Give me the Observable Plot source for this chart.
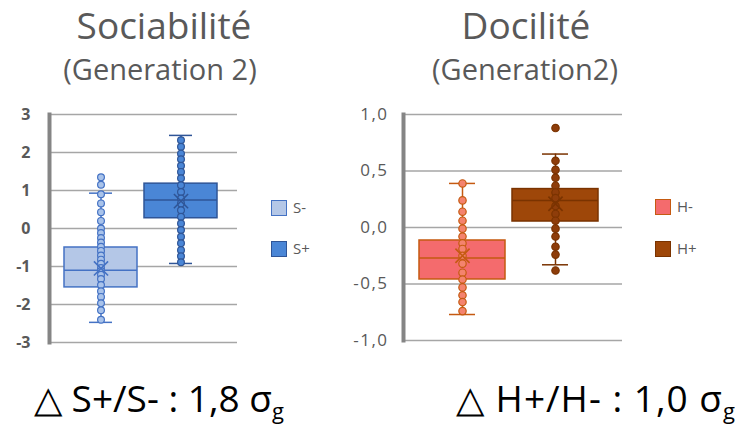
<!DOCTYPE html>
<html>
<head>
<meta charset="utf-8">
<script src="https://cdn.jsdelivr.net/npm/d3@7"></script>
<script src="https://cdn.jsdelivr.net/npm/@observablehq/plot@0.6"></script>
<style>
  html, body { margin: 0; padding: 0; background: #fff; }
  #root { position: relative; width: 735px; height: 427px; overflow: hidden; font-family: "Open Sans", sans-serif; color: #595959; }
  .abs { position: absolute; }
  .title { font-size: 37px; line-height: 1.3; white-space: nowrap; transform: translateX(-50%); }
  .sub { font-size: 29px; line-height: 1.3; white-space: nowrap; transform: translateX(-50%); }
  .leg { position: absolute; display: flex; align-items: center; font-size: 15px; line-height: 1.3; }
  .sw { width: 14px; height: 14px; border: 1.8px solid; margin-right: 6px; }
  .delta { font-size: 37px; color: #000; white-space: nowrap; line-height: 1.3; }
  .delta sub { font-size: 22px; vertical-align: -7px; line-height: 0; }
  .plotH g[aria-label="y-axis tick label"] { letter-spacing: 1.5px; }
</style>
</head>
<body>
<div id="root"></div>
<script>
// ---------- Data ----------
const groupsS = ["S-", "S+"];
const groupsH = ["H-", "H+"];

const pointsSminus = [1.35, 1.15, 0.9, 0.66, 0.43, 0.2, 0.0, -0.12, -0.25, -0.37, -0.48, -0.59, -0.71, -0.82, -0.93, -1.04, -1.12, -1.22, -1.33, -1.49, -1.65, -1.8, -1.97, -2.15, -2.4];
const pointsSplus = [2.32, 2.15, 1.97, 1.82, 1.65, 1.49, 1.32, 1.14, 0.96, 0.79, 0.66, 0.48, 0.31, 0.13, -0.04, -0.22, -0.39, -0.57, -0.73, -0.89];
const pointsHminus = [0.39, 0.24, 0.14, 0.06, -0.01, -0.08, -0.14, -0.19, -0.25, -0.32, -0.40, -0.46, -0.53, -0.60, -0.66, -0.74];
const pointsHplus = [0.88, 0.59, 0.51, 0.44, 0.37, 0.31, 0.26, 0.19, 0.12, 0.06, -0.01, -0.08, -0.17, -0.24, -0.38];

// box statistics per group [minus, plus]
const q1S = [-1.55, 0.27], medianS = [-1.1, 0.75], q3S = [-0.5, 1.18], whiskerLoS = [-2.47, -0.92], whiskerHiS = [0.93, 2.45], meanS = [-1.05, 0.72];
const q1H = [-0.46, 0.053], medianH = [-0.27, 0.24], q3H = [-0.115, 0.34], whiskerLoH = [-0.77, -0.33], whiskerHiH = [0.39, 0.65], meanH = [-0.25, 0.21];

const ticksS = [-3, -2, -1, 0, 1, 2, 3];
const tickLabelsS = ["-3", "-2", "-1", "0", "1", "2", "3"];
const ticksH = [-1, -0.5, 0, 0.5, 1];
const tickLabelsH = ["-1,0", "-0,5", "0,0", "0,5", "1,0"];

const fillS = ["#b4c7e7", "#4a86d6"], strokeS = ["#4472c4", "#2f5597"], ptFillS = ["#a9c3ea", "#4a86d6"];
const fillH = ["#f46b6d", "#9e4709"], strokeH = ["#c55a11", "#7a3300"], ptFillH = ["#f4836e", "#8e3d0a"];

// ---------- helpers ----------
function statsTable(groups, q1, med, q3, lo, hi, mean) {
  return groups.map((g, i) => ({group: g, q1: q1[i], median: med[i], q3: q3[i], lo: lo[i], hi: hi[i], mean: mean[i], i}));
}
function pointsTable(groups, arrs) {
  return groups.flatMap((g, i) => arrs[i].map(v => ({group: g, value: v, i})));
}

function panel(o) {
  const {cls, groups, stats, points, ticks, labels, domain, range, paddingInner, capInset, fills, strokes, ptFills, width, height, marginLeft, marginRight, marginTop, marginBottom, tickPadding, bold, fontSize, r} = o;
  const fillOf = d => fills[d.i], strokeOf = d => strokes[d.i];
  return Plot.plot({
    className: cls,
    width, height, marginLeft, marginRight, marginTop, marginBottom,
    style: {fontFamily: "Open Sans, sans-serif", color: "#595959", background: "transparent"},
    x: {type: "band", domain: groups, range, paddingInner, paddingOuter: 0, axis: null},
    y: {domain, axis: null},
    marks: [
      Plot.ruleY(ticks, {stroke: "#a6a6a6", strokeWidth: 1.6}),
      Plot.frame({anchor: "left", stroke: "#858585", strokeWidth: 4}),
      Plot.axisY({ticks, tickSize: 0, tickPadding, tickFormat: d => labels[ticks.indexOf(d)], fontSize, fontWeight: bold ? "bold" : "normal", fill: "#595959"}),
      Plot.ruleX(stats, {x: "group", y1: "lo", y2: "hi", stroke: strokeOf, strokeWidth: 1.5}),
      Plot.barY(stats, {x: "group", y1: "q1", y2: "q3", fill: fillOf, stroke: strokeOf, strokeWidth: 1.5}),
      Plot.tickY(stats, {x: "group", y: "median", stroke: strokeOf, strokeWidth: 1.5}),
      Plot.tickY(stats, {x: "group", y: "lo", stroke: strokeOf, strokeWidth: 1.5, insetLeft: capInset, insetRight: capInset}),
      Plot.tickY(stats, {x: "group", y: "hi", stroke: strokeOf, strokeWidth: 1.5, insetLeft: capInset, insetRight: capInset}),
      Plot.dot(points, {x: "group", y: "value", r, fill: d => ptFills[d.i], stroke: strokeOf, strokeWidth: 1.2}),
      Plot.dot(stats, {x: "group", y: "mean", symbol: "times", r: 6.5, stroke: strokeOf, strokeWidth: 1.6})
    ]
  });
}

const root = document.getElementById("root");
function place(el, left, top) {
  el.style.position = "absolute"; el.style.left = left + "px"; el.style.top = top + "px";
  root.appendChild(el);
}
function textDiv(cls, txt, left, top) {
  const d = document.createElement("div");
  d.className = "abs " + cls; d.textContent = txt;
  d.style.left = left + "px"; d.style.top = top + "px";
  root.appendChild(d); return d;
}
function legend(label, fill, stroke, left, top) {
  const d = document.createElement("div");
  d.className = "leg";
  d.style.left = left + "px"; d.style.top = top + "px";
  const s = document.createElement("div");
  s.className = "sw"; s.style.background = fill; s.style.borderColor = stroke;
  const t = document.createElement("span"); t.textContent = label;
  d.appendChild(s); d.appendChild(t);
  root.appendChild(d);
}

// ---------- Left panel ----------
const plotS = panel({
  cls: "plotS", groups: groupsS,
  stats: statsTable(groupsS, q1S, medianS, q3S, whiskerLoS, whiskerHiS, meanS),
  points: pointsTable(groupsS, [pointsSminus, pointsSplus]),
  ticks: ticksS, labels: tickLabelsS, domain: [-3, 3],
  range: [63, 217], paddingInner: 0.09, capInset: 25,
  fills: fillS, strokes: strokeS, ptFills: ptFillS,
  width: 250, height: 255, marginLeft: 49, marginRight: 13, marginTop: 14, marginBottom: 13,
  tickPadding: 19, bold: true, fontSize: 16, r: 3.4
});
place(plotS, 0, 100);

// ---------- Right panel ----------
const plotH = panel({
  cls: "plotH", groups: groupsH,
  stats: statsTable(groupsH, q1H, medianH, q3H, whiskerLoH, whiskerHiH, meanH),
  points: pointsTable(groupsH, [pointsHminus, pointsHplus]),
  ticks: ticksH, labels: tickLabelsH, domain: [-1, 1],
  range: [79, 259], paddingInner: 0.075, capInset: 30,
  fills: fillH, strokes: strokeH, ptFills: ptFillH,
  width: 290, height: 255, marginLeft: 63, marginRight: 8, marginTop: 14, marginBottom: 15,
  tickPadding: 15, bold: false, fontSize: 17, r: 3.7
});
place(plotH, 340, 100);

// ---------- Titles ----------
textDiv("title", "Sociabilité", 164, 1);
textDiv("sub", "(Generation 2)", 160, 50);
textDiv("title", "Docilité", 526, 1);
textDiv("sub", "(Generation2)", 525, 50);

// ---------- Legends ----------
legend("S-", fillS[0], strokeS[0], 271, 198);
legend("S+", fillS[1], strokeS[1], 271, 239);
legend("H-", fillH[0], strokeH[0], 655, 197);
legend("H+", fillH[1], strokeH[1], 655, 239);

// ---------- Bottom annotations ----------
const d1 = document.createElement("div");
d1.className = "abs delta"; d1.style.left = "34px"; d1.style.top = "374px";
d1.innerHTML = "△ S+/S- : 1,8 σ<sub>g</sub>";
root.appendChild(d1);
const d2 = document.createElement("div");
d2.className = "abs delta"; d2.style.left = "456px"; d2.style.top = "374px"; d2.style.letterSpacing = "1px";
d2.innerHTML = "△ H+/H- : 1,0 σ<sub>g</sub>";
root.appendChild(d2);
</script>
</body>
</html>
